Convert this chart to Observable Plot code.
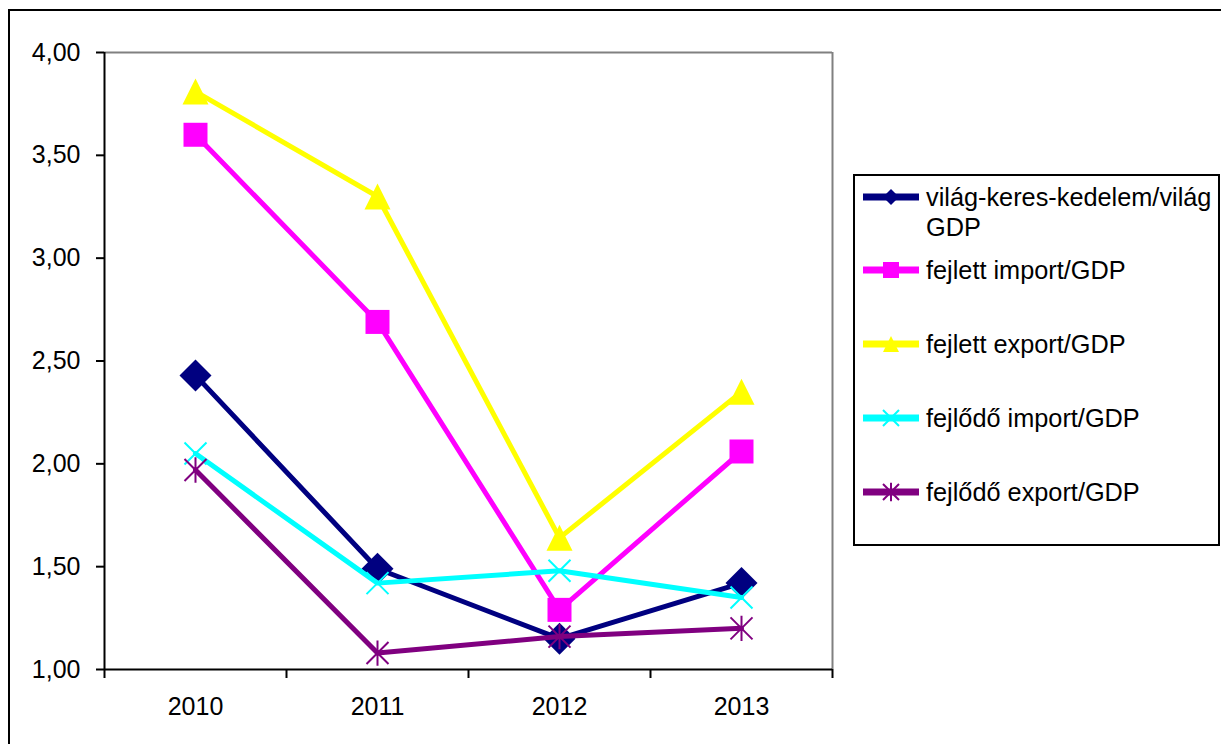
<!DOCTYPE html>
<html>
<head>
<meta charset="utf-8">
<script src="https://cdn.jsdelivr.net/npm/d3@7"></script>
<script src="https://cdn.jsdelivr.net/npm/@observablehq/plot@0.6"></script>
<style>
  html, body { margin: 0; padding: 0; background: #fff; overflow: hidden; width: 1221px; height: 744px; }
  #chart { position: absolute; left: 0; top: 0; }
  #border { position: absolute; left: 8px; top: 9px; width: 1400px; height: 900px; border: 2px solid #000; pointer-events: none; }
  #legend { position: absolute; left: 853px; top: 174px; width: 363px; height: 368px; border: 2px solid #000;
            font-family: "Liberation Sans", Arial, sans-serif; font-size: 25.3px; color: #000; background: #fff; }
  .sw { position: absolute; left: 8px; width: 58px; height: 30px; }
  .lbl { position: absolute; left: 71px; width: 294px; line-height: 30px; white-space: normal; }
</style>
</head>
<body>
<div id="chart"></div>
<div id="legend"></div>
<div id="border"></div>
<script>
// ---- data ----
const years = [2010, 2011, 2012, 2013];
const seriesNames = [
  "világ-keres-kedelem/világ GDP",
  "fejlett import/GDP",
  "fejlett export/GDP",
  "fejlődő import/GDP",
  "fejlődő export/GDP"
];
const vilagKereskedelem = [2.43, 1.49, 1.15, 1.42];
const fejlettImport     = [3.60, 2.69, 1.29, 2.06];
const fejlettExport     = [3.81, 3.30, 1.64, 2.35];
const fejlodoImport     = [2.05, 1.42, 1.48, 1.35];
const fejlodoExport     = [1.97, 1.08, 1.16, 1.20];
const yTicks = [1.0, 1.5, 2.0, 2.5, 3.0, 3.5, 4.0];
const boundaries = [2009.5, 2010.5, 2011.5, 2012.5, 2013.5];

const seriesValues = [vilagKereskedelem, fejlettImport, fejlettExport, fejlodoImport, fejlodoExport];
const colors = ["#000080", "#FF00FF", "#FFFF00", "#00FFFF", "#800080"];

// ---- custom marker symbols (size = r^2 * PI) ----
const rad = s => Math.sqrt(s / Math.PI);
const symDiamond = { draw(c, s) { const r = rad(s); c.moveTo(0, -r); c.lineTo(r, 0); c.lineTo(0, r); c.lineTo(-r, 0); c.closePath(); } };
const symSquare = { draw(c, s) { const r = rad(s); c.rect(-r, -r, 2 * r, 2 * r); } };
const symTriangle = { draw(c, s) { const r = rad(s); c.moveTo(0, -r); c.lineTo(r, r); c.lineTo(-r, r); c.closePath(); } };
const symTimes = { draw(c, s) { const r = rad(s); c.moveTo(-r, -r); c.lineTo(r, r); c.moveTo(r, -r); c.lineTo(-r, r); } };
const symStar = { draw(c, s) { const r = rad(s); c.moveTo(-r, -r); c.lineTo(r, r); c.moveTo(r, -r); c.lineTo(-r, r); c.moveTo(0, -r * 1.15); c.lineTo(0, r * 1.15); } };

const markers = [
  { symbol: symDiamond, r: 16, filled: true },
  { symbol: symSquare, r: 12, filled: true },
  { symbol: symTriangle, r: 13, filled: true },
  { symbol: symTimes, r: 11, filled: false },
  { symbol: symStar, r: 11, filled: false }
];

const data = seriesNames.map((name, i) => years.map((year, j) => ({ name, year, value: seriesValues[i][j] })));

const seriesMarks = data.flatMap((rows, i) => [
  Plot.lineY(rows, { x: "year", y: "value", stroke: colors[i], strokeWidth: 5, strokeLinejoin: "round" }),
  Plot.dot(rows, markers[i].filled
    ? { x: "year", y: "value", symbol: markers[i].symbol, r: markers[i].r, fill: colors[i], stroke: "none" }
    : { x: "year", y: "value", symbol: markers[i].symbol, r: markers[i].r, fill: "none", stroke: colors[i], strokeWidth: 2 })
]);

const plot = Plot.plot({
  width: 1221,
  height: 744,
  marginLeft: 104,
  marginRight: 389,
  marginTop: 52,
  marginBottom: 75,
  style: { fontFamily: "'Liberation Sans', Arial, sans-serif", fontSize: "25px", color: "#000", background: "transparent" },
  x: { type: "linear", domain: [2009.5, 2013.5], label: null },
  y: { domain: [1, 4], label: null },
  marks: [
    Plot.ruleY([4], { stroke: "#808080", strokeWidth: 2 }),
    Plot.ruleX([2013.5], { stroke: "#808080", strokeWidth: 2 }),
    ...seriesMarks,
    Plot.ruleY([1], { stroke: "#000", strokeWidth: 2 }),
    Plot.ruleX([2009.5], { stroke: "#000", strokeWidth: 2 }),
    Plot.axisX({ ticks: boundaries, tickSize: 9, tickFormat: () => "", strokeWidth: 2 }),
    Plot.axisX({ ticks: years, tickSize: 0, tickPadding: 28, tickFormat: d => String(d), fontSize: 25 }),
    Plot.axisY({ ticks: yTicks, tickSize: 8, tickPadding: 16, strokeWidth: 2, fontSize: 25,
                 tickFormat: d => d.toFixed(2).replace(".", ",") })
  ]
});
document.getElementById("chart").appendChild(plot);

// ---- legend ----
const legend = d3.select("#legend");
const entryTops = [6, 79, 153, 227, 301];
seriesNames.forEach((name, i) => {
  const svg = legend.append("svg").attr("class", "sw").style("top", entryTops[i] + "px")
    .attr("width", 58).attr("height", 30);
  svg.append("line").attr("x1", 0).attr("x2", 56).attr("y1", 15).attr("y2", 15)
    .attr("stroke", colors[i]).attr("stroke-width", 7);
  const r = 8;
  svg.append("path").attr("transform", "translate(28,15)")
    .attr("d", (() => { const p = d3.path(); markers[i].symbol.draw(p, r * r * Math.PI); return p.toString(); })())
    .attr("fill", markers[i].filled ? colors[i] : "none")
    .attr("stroke", markers[i].filled ? "none" : colors[i])
    .attr("stroke-width", 2);
  legend.append("div").attr("class", "lbl").style("top", entryTops[i] + "px").text(name);
});
</script>
</body>
</html>
